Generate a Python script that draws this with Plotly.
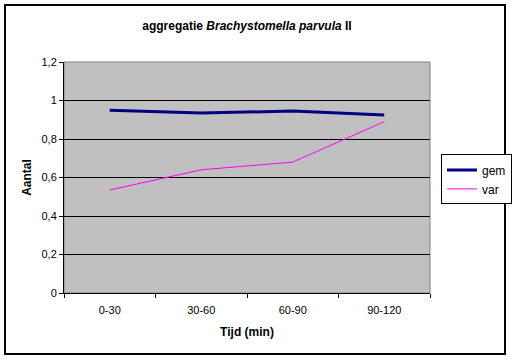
import plotly.graph_objects as go

categories = ["0-30", "30-60", "60-90", "90-120"]
gem = [0.95, 0.935, 0.945, 0.925]
var = [0.535, 0.64, 0.68, 0.89]
y_ticks = [0, 0.2, 0.4, 0.6, 0.8, 1.0, 1.2]
y_tick_labels = ["0", "0,2", "0,4", "0,6", "0,8", "1", "1,2"]

FONT = "Liberation Sans, Arial, sans-serif"

fig = go.Figure()
fig.add_trace(go.Scatter(x=categories, y=gem, mode="lines", name="gem",
                         line=dict(color="#000080", width=3)))
fig.add_trace(go.Scatter(x=categories, y=var, mode="lines", name="var",
                         line=dict(color="#FF00FF", width=1)))

fig.update_layout(
    width=512, height=360,
    margin=dict(l=64, r=82, t=62, b=67, autoexpand=False),
    paper_bgcolor="white",
    plot_bgcolor="#C0C0C0",
    font=dict(family=FONT, size=11, color="black"),
    title=dict(text="<b>aggregatie <i>Brachystomella parvula</i> II</b>",
               x=0.5, xref="paper", xanchor="center", y=0.928, yanchor="middle",
               font=dict(family=FONT, size=12, color="black")),
    xaxis=dict(
        type="category", range=[-0.5, 3.5], tickson="boundaries",
        ticks="outside", ticklen=4, tickcolor="black", automargin=False,
        ticklabelstandoff=7,
        showline=True, linecolor="black", linewidth=1,
        showgrid=False, zeroline=False,
        title=dict(text="<b>Tijd (min)</b>", font=dict(size=12), standoff=12),
        tickfont=dict(size=11),
    ),
    yaxis=dict(
        range=[0, 1.2], tickvals=y_ticks, ticktext=y_tick_labels,
        ticks="outside", ticklen=4, tickcolor="black", automargin=False,
        showline=True, linecolor="black", linewidth=1,
        showgrid=True, gridcolor="black", gridwidth=1, zeroline=False,
        title=dict(text="<b>Aantal</b>", font=dict(size=12), standoff=7),
        tickfont=dict(size=11),
    ),
    legend=dict(x=1.03, y=0.6, xanchor="left", yanchor="top",
                bgcolor="white", bordercolor="black", borderwidth=1,
                font=dict(size=12), tracegroupgap=0, itemwidth=30),
    showlegend=True,
    shapes=[
        dict(type="rect", xref="paper", yref="paper", x0=0, x1=1, y0=0, y1=1,
             line=dict(color="#808080", width=1), layer="below"),
        dict(type="rect", xref="paper", yref="paper",
             x0=(5 - 64) / 366, x1=(505 - 64) / 366,
             y0=(293 - 354) / 231, y1=(293 - 5) / 231,
             line=dict(color="black", width=2)),
    ],
)

fig.write_html("out.html", config={"displayModeBar": False},
               post_script="document.body.style.margin='0';document.body.style.padding='0';")
